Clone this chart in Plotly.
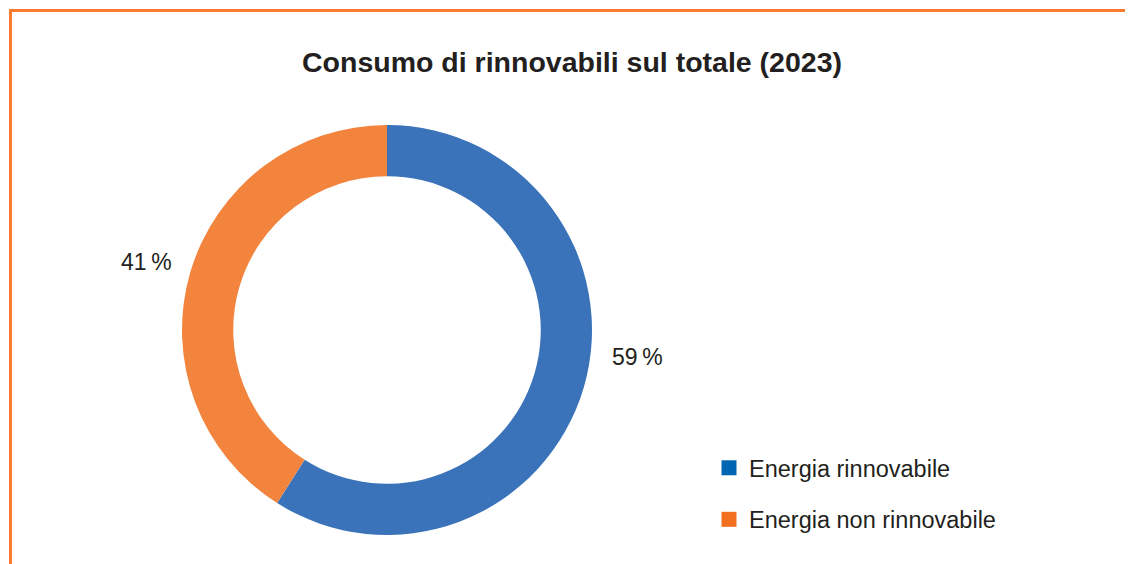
import plotly.graph_objects as go

categories = ["Energia rinnovabile", "Energia non rinnovabile"]
values = [59, 41]
slice_colors = ["#3A73B9", "#F2843E"]
legend_colors = ["#0066B3", "#F37021"]
title_text = "Consumo di rinnovabili sul totale (2023)"

W, H = 1133, 564
OFF = 8  # page body margin
cx, cy, R = 387 - OFF, 330 - OFF, 205

fig = go.Figure()
fig.add_trace(go.Pie(
    labels=categories, values=values, hole=0.75, sort=False,
    direction="clockwise", rotation=0,
    marker=dict(colors=slice_colors, line=dict(width=0)),
    textinfo="none", hoverinfo="label+percent", showlegend=False,
    domain=dict(x=[(cx - R) / W, (cx + R) / W], y=[(H - cy - R) / H, (H - cy + R) / H]),
))
for i, (c, col) in enumerate(zip(categories, legend_colors)):
    fig.add_trace(go.Scatter(
        x=[None], y=[None], mode="markers", name=c, legendgroup=f"g{i}",
        marker=dict(symbol="square", size=15, color=col), showlegend=True,
    ))

label_pos = [(637 - OFF, 357 - OFF), (146 - OFF, 262 - OFF)]
annotations = []
for v, (px, py) in zip(values, label_pos):
    annotations.append(dict(
        text=f"{v}\u2009%", x=px / W, y=1 - py / H, xref="paper", yref="paper",
        showarrow=False, xanchor="center", yanchor="middle",
        font=dict(family="Liberation Sans, Arial, sans-serif", size=23, color="#231F20"),
    ))

fig.update_layout(
    width=W, height=H,
    margin=dict(l=0, r=0, t=0, b=0),
    paper_bgcolor="white", plot_bgcolor="white",
    title=dict(text=f"<b>{title_text}</b>", x=(572 - OFF) / W, xanchor="center",
               y=1 - (62 - OFF) / H, yanchor="middle",
               font=dict(family="Liberation Sans, Arial, sans-serif", size=28.5, color="#231F20")),
    xaxis=dict(visible=False), yaxis=dict(visible=False),
    legend=dict(x=(729 - 20 - OFF) / W, xanchor="left", y=1 - (446 - OFF) / H, yanchor="top",
                tracegroupgap=18, bgcolor="rgba(0,0,0,0)",
                font=dict(family="Liberation Sans, Arial, sans-serif", size=23.5, color="#231F20")),
    annotations=annotations,
    shapes=[
        dict(type="rect", xref="paper", yref="paper", x0=(9 - OFF) / W, x1=1,
             y0=1 - (12 - OFF) / H, y1=1 - (9 - OFF) / H,
             fillcolor="#FB7A30", line=dict(width=0), layer="above"),
        dict(type="rect", xref="paper", yref="paper", x0=(9 - OFF) / W, x1=(12 - OFF) / W,
             y0=0, y1=1 - (9 - OFF) / H,
             fillcolor="#FB7A30", line=dict(width=0), layer="above"),
    ],
)

fig.write_html("out.html")
